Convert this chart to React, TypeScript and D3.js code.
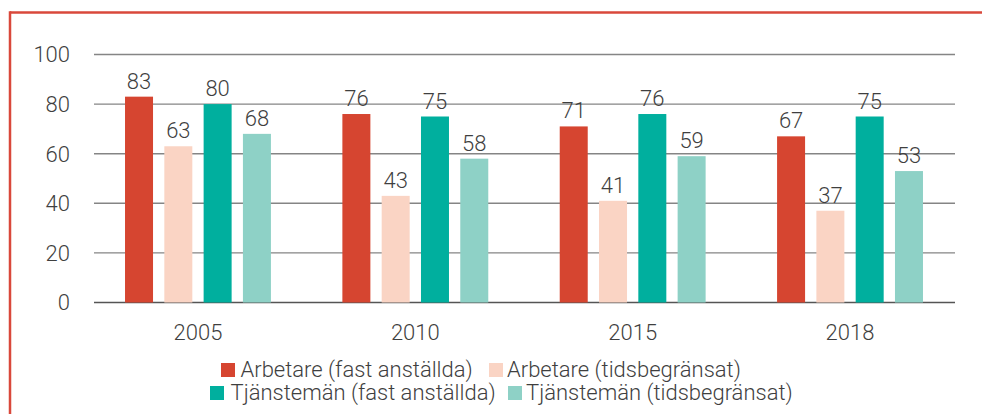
import React from "react";
import * as d3 from "d3";

const years = ["2005", "2010", "2015", "2018"];
const seriesNames = [
  "Arbetare (fast anställda)",
  "Arbetare (tidsbegränsat)",
  "Tjänstemän (fast anställda)",
  "Tjänstemän (tidsbegränsat)",
];
const arbetareFast = [83, 76, 71, 67];
const arbetareTids = [63, 43, 41, 37];
const tjanstemanFast = [80, 75, 76, 75];
const tjanstemanTids = [68, 58, 59, 53];
const yTicks = [0, 20, 40, 60, 80, 100];
const colors = ["#D64530", "#FAD4C4", "#00AF9E", "#8ED1C6"];

const seriesValues = [arbetareFast, arbetareTids, tjanstemanFast, tjanstemanTids];

const W = 982;
const H = 414;
const FONT = "Roboto, 'Liberation Sans', Arial, sans-serif";
const TEXT = "#3f3f3f";

export default function App() {
  const y = d3.scaleLinear().domain([0, 100]).range([302.5, 54.5]);
  const x0 = d3.scaleBand<string>().domain(years).range([89.3, 958.7]);
  const step = 39.3;
  const pad = (step - 28) / step;
  const x1 = d3
    .scaleBand<number>()
    .domain(d3.range(seriesNames.length))
    .range([-2 * step, 2 * step])
    .paddingInner(pad)
    .paddingOuter(pad / 2);

  const cx = (yr: string) => (x0(yr) as number) + x0.bandwidth() / 2;

  const legendPos = [
    { sx: 221, tx: 240.5, base: 377 },
    { sx: 489, tx: 507, base: 377 },
    { sx: 210, tx: 230.5, base: 400 },
    { sx: 508, tx: 526, base: 400 },
  ];

  return (
    <svg
      width={W}
      height={H}
      style={{ position: "absolute", left: 0, top: 0, display: "block", background: "#fff" }}
      fontFamily={FONT}
    >
      {/* frame */}
      <line x1={10} x2={W} y1={12.5} y2={12.5} stroke="#D9483B" strokeWidth={2.5} />
      <line x1={10} x2={10} y1={11.25} y2={H} stroke="#D9483B" strokeWidth={2.5} />

      {/* grid */}
      {yTicks.map((t) => (
        <g key={t}>
          <line
            x1={94}
            x2={955}
            y1={y(t)}
            y2={y(t)}
            stroke={t === 0 ? "#555" : "#858585"}
            strokeWidth={1.4}
          />
          <text
            x={70}
            y={y(t)}
            dy="0.36em"
            textAnchor="end"
            fontSize={22}
            fontWeight={300}
            fill={TEXT}
          >
            {t}
          </text>
        </g>
      ))}

      {/* bars */}
      {years.map((yr, gi) => (
        <g key={yr} transform={`translate(${cx(yr)},0)`}>
          {seriesValues.map((vals, si) => {
            const v = vals[gi];
            const bx = x1(si) as number;
            return (
              <g key={si}>
                <rect
                  x={bx}
                  y={y(v)}
                  width={x1.bandwidth()}
                  height={y(0) - y(v)}
                  fill={colors[si]}
                />
                <text
                  x={bx + x1.bandwidth() / 2}
                  y={y(v) - 8}
                  textAnchor="middle"
                  fontSize={22}
                  fontWeight={300}
                  fill={TEXT}
                >
                  {v}
                </text>
              </g>
            );
          })}
          <text
            x={0}
            y={340}
            textAnchor="middle"
            fontSize={22}
            fontWeight={300}
            fill={TEXT}
          >
            {yr}
          </text>
        </g>
      ))}

      {/* legend */}
      {seriesNames.map((name, i) => {
        const p = legendPos[i];
        return (
          <g key={name}>
            <rect x={p.sx} y={p.base - 14} width={14} height={14} fill={colors[i]} />
            <text x={p.tx} y={p.base} fontSize={22} fontWeight={300} fill={TEXT}>
              {name}
            </text>
          </g>
        );
      })}
    </svg>
  );
}
